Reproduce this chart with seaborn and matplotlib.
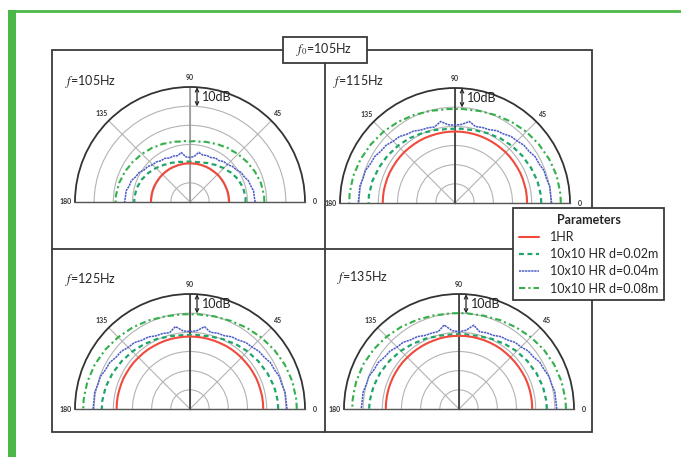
import numpy as np
import pandas as pd
import seaborn as sns
import matplotlib
matplotlib.use("Agg")
import matplotlib.pyplot as plt
from matplotlib.patches import Rectangle
from matplotlib.lines import Line2D

# ---- data (dB on a 0-60 radial scale), one value every 5 degrees from 0 to 180 ----
angles_deg = list(range(0, 181, 5))

freq_labels = ["105Hz", "115Hz", "125Hz", "135Hz"]
series_names = ["1HR", "10x10 HR d=0.02m", "10x10 HR d=0.04m", "10x10 HR d=0.08m"]

hr_single = [
    [20.4, 20.4, 20.4, 20.4, 20.3, 20.3, 20.3, 20.3, 20.3, 20.3, 20.2, 20.2, 20.2,
     20.2, 20.2, 20.2, 20.2, 20.2, 20.2, 20.2, 20.2, 20.2, 20.2, 20.2, 20.3, 20.3,
     20.3, 20.3, 20.3, 20.3, 20.3, 20.4, 20.4, 20.4, 20.4, 20.4, 20.4],
    [37.6, 37.6, 37.6, 37.5, 37.5, 37.5, 37.4, 37.4, 37.4, 37.4, 37.3, 37.3, 37.3,
     37.3, 37.3, 37.3, 37.3, 37.3, 37.3, 37.3, 37.3, 37.3, 37.3, 37.4, 37.4, 37.4,
     37.4, 37.5, 37.5, 37.5, 37.5, 37.6, 37.6, 37.6, 37.7, 37.7, 37.7],
    [38.2, 38.2, 38.2, 38.1, 38.1, 38.1, 38.0, 38.0, 37.9, 37.9, 37.9, 37.9, 37.9,
     37.8, 37.8, 37.8, 37.8, 37.8, 37.8, 37.8, 37.8, 37.9, 37.9, 37.9, 37.9, 38.0,
     38.0, 38.0, 38.1, 38.1, 38.1, 38.2, 38.2, 38.2, 38.3, 38.3, 38.3],
    [38.2, 38.2, 38.2, 38.2, 38.2, 38.2, 38.1, 38.1, 38.1, 38.1, 38.1, 38.2, 38.2,
     38.2, 38.2, 38.2, 38.2, 38.2, 38.2, 38.2, 38.2, 38.2, 38.1, 38.1, 38.1, 38.1,
     38.1, 38.1, 38.2, 38.2, 38.2, 38.2, 38.2, 38.2, 38.2, 38.2, 38.2],
]

d002 = [
    [29.0, 29.1, 28.8, 28.7, 28.1, 27.8, 27.0, 26.5, 25.5, 25.0, 24.1, 23.6, 22.8,
     22.4, 21.8, 21.6, 21.1, 21.1, 21.0, 21.2, 21.2, 21.7, 21.9, 22.6, 22.9, 23.7,
     24.2, 25.1, 25.6, 26.5, 27.0, 27.8, 28.1, 28.7, 28.8, 29.1, 29.1],
    [45.0, 45.0, 44.6, 44.5, 43.9, 43.7, 43.1, 42.9, 42.3, 42.1, 41.5, 41.2, 40.5,
     40.2, 39.6, 39.4, 38.9, 38.9, 38.7, 38.9, 38.9, 39.5, 39.7, 40.3, 40.6, 41.3,
     41.6, 42.2, 42.4, 43.0, 43.2, 43.8, 44.0, 44.6, 44.7, 45.1, 45.1],
    [46.0, 46.0, 45.6, 45.4, 44.8, 44.5, 43.8, 43.5, 42.8, 42.5, 41.8, 41.4, 40.6,
     40.3, 39.6, 39.3, 38.8, 38.8, 38.6, 38.8, 38.8, 39.4, 39.7, 40.4, 40.7, 41.4,
     41.8, 42.5, 42.8, 43.5, 43.8, 44.5, 44.8, 45.4, 45.6, 46.0, 46.0],
    [45.8, 45.8, 45.4, 45.3, 44.7, 44.5, 43.8, 43.6, 42.9, 42.6, 41.9, 41.5, 40.7,
     40.4, 39.7, 39.5, 39.0, 39.1, 39.0, 39.1, 39.1, 39.6, 39.9, 40.6, 40.9, 41.7,
     42.1, 42.9, 43.3, 44.1, 44.5, 45.2, 45.5, 46.1, 46.3, 46.8, 46.9],
]

d004 = [
    [34.0, 33.6, 33.7, 32.8, 32.4, 31.2, 30.8, 29.4, 28.9, 27.6, 27.5, 26.4, 26.5,
     25.6, 25.8, 25.4, 26.3, 23.8, 23.2, 23.6, 26.2, 25.0, 25.5, 25.3, 26.3, 26.3,
     27.3, 27.5, 28.8, 29.2, 30.7, 31.2, 32.6, 32.8, 33.8, 33.8, 34.1],
    [50.4, 50.1, 50.2, 49.4, 49.4, 48.4, 48.3, 47.1, 46.9, 45.8, 45.4, 44.0, 43.6,
     42.2, 41.9, 41.3, 43.2, 41.2, 40.6, 41.0, 43.2, 41.1, 41.7, 42.0, 43.3, 43.8,
     45.2, 45.6, 46.9, 47.2, 48.4, 48.6, 49.7, 49.6, 50.4, 50.2, 50.5],
    [50.6, 50.3, 50.4, 49.6, 49.6, 48.6, 48.4, 47.2, 46.9, 45.7, 45.3, 43.9, 43.5,
     42.2, 42.1, 41.4, 43.6, 41.0, 40.4, 40.9, 43.7, 41.2, 41.9, 42.1, 43.4, 43.8,
     45.2, 45.5, 46.8, 47.1, 48.4, 48.6, 49.7, 49.7, 50.5, 50.3, 50.6],
    [51.0, 50.7, 50.8, 50.0, 49.9, 48.9, 48.7, 47.4, 47.1, 45.8, 45.4, 44.0, 43.6,
     42.4, 42.3, 41.7, 44.4, 41.2, 40.4, 41.0, 44.5, 41.8, 42.1, 42.3, 43.6, 44.0,
     45.4, 45.7, 47.0, 47.3, 48.6, 48.8, 50.0, 50.0, 50.8, 50.7, 51.0],
]

d008 = [
    [38.8, 38.8, 38.4, 38.3, 37.7, 37.4, 36.7, 36.4, 35.7, 35.4, 34.7, 34.4, 33.7,
     33.4, 32.7, 32.5, 31.9, 31.9, 31.6, 31.9, 32.0, 32.6, 32.8, 33.5, 33.8, 34.5,
     34.8, 35.5, 35.8, 36.5, 36.8, 37.5, 37.7, 38.3, 38.4, 38.8, 38.8],
    [55.2, 55.2, 54.9, 54.9, 54.4, 54.2, 53.6, 53.4, 52.8, 52.6, 51.9, 51.6, 50.9,
     50.6, 49.9, 49.7, 49.2, 49.2, 49.0, 49.2, 49.2, 49.8, 50.0, 50.7, 51.0, 51.7,
     52.0, 52.7, 52.9, 53.5, 53.7, 54.3, 54.4, 54.9, 54.9, 55.2, 55.2],
    [55.7, 55.7, 55.3, 55.3, 54.8, 54.6, 54.0, 53.7, 53.0, 52.7, 52.0, 51.7, 51.0,
     50.7, 50.1, 50.0, 49.5, 49.6, 49.4, 49.6, 49.6, 50.1, 50.3, 51.0, 51.3, 52.0,
     52.3, 53.0, 53.3, 54.0, 54.2, 54.8, 54.9, 55.4, 55.4, 55.7, 55.7],
    [55.8, 55.8, 55.4, 55.4, 54.9, 54.8, 54.2, 54.0, 53.3, 53.0, 52.3, 52.0, 51.3,
     51.1, 50.5, 50.4, 50.0, 50.1, 50.0, 50.1, 50.1, 50.6, 50.8, 51.4, 51.7, 52.4,
     52.7, 53.4, 53.7, 54.3, 54.5, 55.1, 55.1, 55.5, 55.5, 55.7, 55.7],
]

# ---- style ----
W, H = 681, 457
R = 115
panel_centers = [(190, 202), (455, 203), (190, 409), (459, 409)]
label_pos = [(65, 82), (333, 82), (65, 280), (337, 278)]
centre_line_col = ["#9a9a9a", "#333333", "#333333", "#333333"]

colors = ["#ef4a3c", "#1fa46a", "#4b5bc8", "#33b04a"]
styles = ["-", (0, (2.2, 1.6)), (0, (1.5, 0.5)), (0, (3, 1.5, 1, 1.5))]
widths = [1.5, 1.6, 1.1, 1.5]
frame_col = "#3a3a3a"
green = "#4bb848"

sns.set_theme(style="white")
plt.rcParams["font.family"] = ["Lato", "DejaVu Sans"]
plt.rcParams["mathtext.fontset"] = "stix"

fig = plt.figure(figsize=(W / 100, H / 100), dpi=100)
fig.patch.set_facecolor("white")

# background frame drawn in pixel coordinates
bg = fig.add_axes([0, 0, 1, 1], zorder=0)
bg.set_xlim(0, W)
bg.set_ylim(H, 0)
bg.axis("off")
bg.add_patch(Rectangle((8, 10), 8, H - 10, color=green, lw=0))
bg.add_line(Line2D([10, W], [11, 11], color=green, lw=2))
bg.add_patch(Rectangle((52, 50), 540, 382, fill=False, ec=frame_col, lw=1.3))
bg.add_line(Line2D([325, 325], [50, 432], color=frame_col, lw=1.3))
bg.add_line(Line2D([52, 592], [249, 249], color=frame_col, lw=1.3))
bg.add_patch(Rectangle((283, 37), 84, 26, fc="white", ec=frame_col, lw=1.3, zorder=3))
bg.text(324, 50, r"$f_0$=105Hz", ha="center", va="center", fontsize=9, zorder=4)

theta = np.deg2rad(angles_deg)
handles = []
for i in range(4):
    cx, cy = panel_centers[i]
    S = 2 * R
    ax = fig.add_axes([(cx - R) / W, (H - cy - 0.25 * S) / H, S / W, S / H],
                      projection="polar", zorder=2)
    ax.patch.set_alpha(0)
    ax.set_thetamin(0)
    ax.set_thetamax(180)
    ax.set_rlim(0, 60)

    series = [hr_single[i], d002[i], d004[i], d008[i]]
    for k, values in enumerate(series):
        df = pd.DataFrame({"theta": theta, "r": values})
        sns.lineplot(data=df, x="theta", y="r", sort=False, ax=ax, color=colors[k],
                     linestyle=styles[k], lw=widths[k], zorder=3 + (k == 0))
        if i == 0:
            handles.append(ax.lines[-1])

    ax.set_xlabel("")
    ax.set_ylabel("")
    ax.set_yticks([10, 20, 30, 40, 50])
    ax.set_yticklabels([])
    ax.set_thetagrids([0, 45, 90, 135, 180], labels=["0", "45", "90", "135", "180"],
                      fontsize=5, fontweight="bold", color="#333333")
    ax.tick_params(axis="x", pad=-6)
    ax.grid(True, color="#b3b3b3", lw=0.8)
    ax.axvline(np.pi / 2, color=centre_line_col[i], lw=1.2, zorder=2)
    ax.spines["polar"].set_color("#333333")
    ax.spines["polar"].set_linewidth(1.3)
    for s in ("start", "end"):
        ax.spines[s].set_color("#555555")
        ax.spines[s].set_linewidth(1.0)

    ax.annotate("", xy=(np.deg2rad(86.5), 60), xytext=(np.deg2rad(85.8), 50),
                arrowprops=dict(arrowstyle="<->", lw=0.9, color="#222222",
                                shrinkA=0, shrinkB=0, mutation_scale=6))
    ax.text(np.deg2rad(83.5), 55, "10dB", ha="left", va="center", fontsize=9,
            color="#222222")

    lx, ly = label_pos[i]
    bg.text(lx, ly, r"$f$=" + freq_labels[i], ha="left", va="center", fontsize=9,
            zorder=4)

leg = fig.legend(handles, series_names, title="Parameters", loc="upper left",
                 bbox_to_anchor=(513 / W, 1 - 208 / H), frameon=True, fancybox=False,
                 framealpha=1, edgecolor=frame_col, fontsize=9,
                 title_fontproperties={"weight": "bold", "size": 9},
                 handlelength=1.6, handletextpad=0.9, labelspacing=0.42,
                 borderpad=0.45, borderaxespad=0)
leg.get_frame().set_linewidth(1.3)
leg.set_zorder(10)

fig.savefig("out.png", dpi=100, facecolor="white")
